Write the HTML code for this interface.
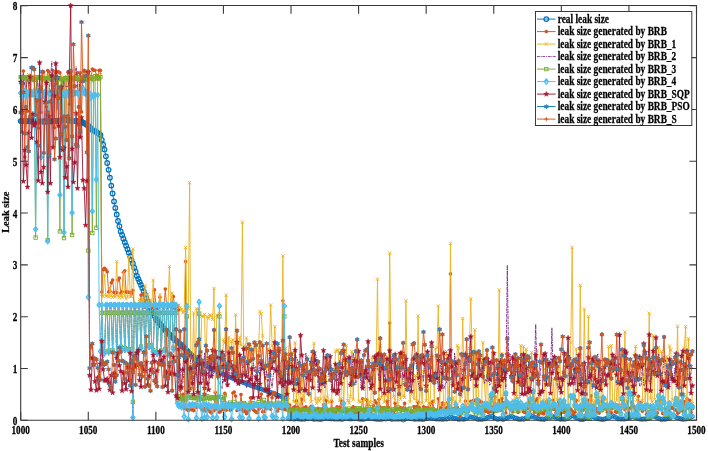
<!DOCTYPE html>
<html><head><meta charset="utf-8"><style>
html,body{margin:0;padding:0;background:#fff;}
svg{display:block;}
text{font-family:"Liberation Serif",serif;font-weight:bold;fill:#000;font-size:11px;stroke:#000;stroke-width:0.25px;}
</style></head><body>
<svg width="708" height="451" viewBox="0 0 708 451">
<defs><marker id="mo" markerUnits="userSpaceOnUse" markerWidth="10" markerHeight="10" refX="5" refY="5" overflow="visible"><circle cx="5" cy="5" r="2.3" fill="none" stroke="#0072BD" stroke-width="1.25"/></marker><marker id="mo2" markerUnits="userSpaceOnUse" markerWidth="10" markerHeight="10" refX="5" refY="5" overflow="visible"><circle cx="5" cy="5" r="2.0" fill="none" stroke="#0072BD" stroke-width="0.8"/></marker><marker id="md" markerUnits="userSpaceOnUse" markerWidth="10" markerHeight="10" refX="5" refY="5" overflow="visible"><circle cx="5" cy="5" r="1.8" fill="#D95319"/></marker><marker id="mx" markerUnits="userSpaceOnUse" markerWidth="10" markerHeight="10" refX="5" refY="5" overflow="visible"><path d="M3.4 3.3L6.6 6.7M6.6 3.3L3.4 6.7" stroke="#EDB120" stroke-width="0.9"/></marker><marker id="ms" markerUnits="userSpaceOnUse" markerWidth="10" markerHeight="10" refX="5" refY="5" overflow="visible"><rect x="3.3" y="3.3" width="3.4" height="3.4" fill="none" stroke="#77AC30" stroke-width="0.9"/></marker><marker id="mdi" markerUnits="userSpaceOnUse" markerWidth="10" markerHeight="10" refX="5" refY="5" overflow="visible"><path d="M5 2.4L7.1 5L5 7.6L2.9 5Z" fill="none" stroke="#4DBEEE" stroke-width="1.2"/></marker><marker id="mdf" markerUnits="userSpaceOnUse" markerWidth="10" markerHeight="10" refX="5" refY="5" overflow="visible"><path d="M5 2.4L7.1 5L5 7.6L2.9 5Z" fill="#4DBEEE" fill-opacity="0.55" stroke="#4DBEEE" stroke-width="1.2"/></marker><marker id="mp" markerUnits="userSpaceOnUse" markerWidth="10" markerHeight="10" refX="5" refY="5" overflow="visible"><path d="M5.00 2.25L5.68 4.07L7.62 4.15L6.09 5.36L6.62 7.22L5.00 6.15L3.38 7.22L3.91 5.36L2.38 4.15L4.32 4.07Z" fill="#A2142F" stroke="#A2142F" stroke-width="0.4"/></marker><marker id="mh" markerUnits="userSpaceOnUse" markerWidth="10" markerHeight="10" refX="5" refY="5" overflow="visible"><path d="M5 2.8L5.7 3.8L7 3.8L6.3 5L7 6.2L5.7 6.2L5 7.2L4.3 6.2L3 6.2L3.7 5L3 3.8L4.3 3.8Z" fill="#2F7FC1" stroke="#0072BD" stroke-width="0.5"/></marker><marker id="mpl" markerUnits="userSpaceOnUse" markerWidth="10" markerHeight="10" refX="5" refY="5" overflow="visible"><path d="M5 3V7M3.1 5H6.9" stroke="#D95319" stroke-width="0.9"/></marker>
<clipPath id="cp"><rect x="18" y="3" width="681" height="420"/></clipPath>
</defs>
<rect width="708" height="451" fill="#fff"/>
<g>
<polyline points="20.7,121.1 22.1,121.1 23.4,121.1 24.8,121.1 26.1,121.2 27.5,121.2 28.8,121.2 30.2,121.2 31.5,121.3 32.9,121.3 34.2,121.3 35.6,121.3 36.9,121.4 38.3,121.4 39.6,121.4 41.0,121.4 42.3,121.5 43.7,121.5 45.0,121.5 46.4,121.5 47.7,121.6 49.1,121.5 50.4,121.3 51.8,121.2 53.1,121.1 54.5,121.0 55.8,120.9 57.2,120.7 58.5,120.6 59.9,120.5 61.2,120.4 62.6,120.3 64.0,120.1 65.3,120.0 66.7,120.1 68.0,120.3 69.4,120.4 70.7,120.5 72.1,120.7 73.4,120.8 74.8,120.9 76.1,121.1 77.5,121.2 78.8,121.3 80.2,121.4 81.5,121.6 82.9,122.4 84.2,123.2 85.6,124.1 86.9,124.9 88.3,125.7 89.6,127.1 91.0,128.5 92.3,129.9 93.7,130.6 95.0,131.2 96.4,131.9 97.7,133.0 99.1,134.0 100.4,135.0 101.8,139.9 103.1,144.7 104.5,149.6 105.9,156.3 107.2,163.0 108.6,169.8 109.9,177.7 111.3,185.6 112.6,193.5 114.0,201.4 115.3,207.9 116.7,214.5 118.0,221.0 119.4,226.2 120.7,231.4 122.1,235.0 123.4,238.7 124.8,242.2 126.1,245.7 127.5,249.2 128.8,252.7 130.2,256.3 131.5,259.9 132.9,263.5 134.2,267.7 135.6,271.8 136.9,276.0 138.3,278.9 139.6,281.9 141.0,284.9 142.3,287.9 143.7,291.3 145.0,294.6 146.4,298.0 147.8,301.4 149.1,304.3 150.5,307.2 151.8,310.2 153.2,313.1 154.5,316.0 155.9,319.0 157.2,320.6 158.6,322.3 159.9,323.9 161.3,325.5 162.6,327.2 164.0,328.8 165.3,330.2 166.7,331.6 168.0,333.0 169.4,334.3 170.7,335.7 172.1,337.1 173.4,338.3 174.8,339.4 176.1,340.6 177.5,341.8 178.8,342.9 180.2,344.1 181.5,345.3 182.9,346.4 184.2,347.8 185.6,349.2 186.9,350.6 188.3,352.0 189.6,353.4 191.0,354.8 192.4,356.2 193.7,357.6 195.1,359.0 196.4,360.4 197.8,361.2 199.1,362.0 200.5,362.7 201.8,363.5" fill="none" stroke="#0072BD" stroke-width="0.9" stroke-linejoin="round" marker-start="url(#mo)" marker-mid="url(#mo)" marker-end="url(#mo)" />
<polyline points="201.8,363.5 203.2,364.3 204.5,365.1 205.9,365.9 207.2,366.6 208.6,367.4 209.9,368.2 211.3,368.8 212.6,369.4 214.0,370.1 215.3,370.7 216.7,371.3 218.0,371.9 219.4,372.5 220.7,373.2 222.1,373.8 223.4,374.4 224.8,375.0 226.1,375.5 227.5,376.1 228.8,376.7 230.2,377.3 231.5,377.8 232.9,378.4 234.3,379.0 235.6,379.5 237.0,380.1 238.3,380.6 239.7,381.1 241.0,381.7 242.4,382.2 243.7,382.7 245.1,383.2 246.4,383.7 247.8,384.3 249.1,384.8 250.5,385.3 251.8,385.8 253.2,386.2 254.5,386.7 255.9,387.2 257.2,387.6 258.6,388.1 259.9,388.6 261.3,389.0 262.6,389.5 264.0,390.0 265.3,390.5 266.7,391.0 268.0,391.5 269.4,392.0 270.7,392.5 272.1,393.1 273.4,393.6 274.8,394.1 276.2,394.6 277.5,395.1 278.9,395.6 280.2,396.2 281.6,396.7 282.9,397.2 284.3,397.7 285.6,398.2 287.0,398.8 288.3,418.4 289.7,419.0 291.0,418.4 292.4,418.6 293.7,419.1 295.1,419.0 296.4,418.6 297.8,418.9 299.1,419.0 300.5,419.0 301.8,419.4 303.2,418.7 304.5,419.3 305.9,418.7 307.2,418.5 308.6,418.7 309.9,418.4 311.3,418.1 312.6,418.9 314.0,419.3 315.3,419.1 316.7,418.9 318.1,419.2 319.4,419.2 320.8,419.6 322.1,418.9 323.5,418.8 324.8,418.4 326.2,418.1 327.5,418.2 328.9,418.7 330.2,418.8 331.6,418.9 332.9,418.7 334.3,419.2 335.6,418.7 337.0,419.1 338.3,419.1 339.7,419.0 341.0,419.1 342.4,419.5 343.7,418.2 345.1,418.3 346.4,418.1 347.8,418.6 349.1,418.8 350.5,418.9 351.8,418.9 353.2,418.5 354.5,418.7 355.9,418.6 357.2,418.5 358.6,419.1 360.0,419.1 361.3,419.3 362.7,419.2 364.0,419.3 365.4,418.6 366.7,418.5 368.1,418.5 369.4,418.4 370.8,418.3 372.1,418.2 373.5,418.8 374.8,418.9 376.2,419.3 377.5,419.2 378.9,419.3 380.2,419.3 381.6,419.4 382.9,419.0 384.3,418.6 385.6,419.1 387.0,418.2 388.3,418.5 389.7,418.3 391.0,419.1 392.4,419.4 393.7,418.6 395.1,419.3 396.4,418.8 397.8,419.2 399.1,419.1 400.5,418.8 401.9,419.2 403.2,420.1 404.6,419.5 405.9,418.5 407.3,418.0 408.6,418.4 410.0,418.4 411.3,418.8 412.7,418.4 414.0,419.3 415.4,419.3 416.7,419.0 418.1,419.1 419.4,419.3 420.8,418.9 422.1,419.5 423.5,419.4 424.8,419.0 426.2,418.6 427.5,418.5 428.9,417.4 430.2,417.9 431.6,417.8 432.9,418.4 434.3,418.4 435.6,418.9 437.0,419.1 438.3,418.6 439.7,419.3 441.0,418.7 442.4,419.4 443.8,419.1 445.1,418.4 446.5,419.2 447.8,418.5 449.2,417.6 450.5,417.0 451.9,417.3 453.2,418.0 454.6,418.7 455.9,418.4 457.3,418.8 458.6,419.5 460.0,419.2 461.3,418.6 462.7,419.1 464.0,419.3 465.4,418.7 466.7,418.3 468.1,417.6 469.4,416.8 470.8,416.8 472.1,417.3 473.5,417.3 474.8,417.8 476.2,418.1 477.5,419.3 478.9,419.4 480.2,418.9 481.6,419.5 482.9,419.0 484.3,418.8 485.7,418.7 487.0,417.5 488.4,417.3 489.7,416.8 491.1,416.0 492.4,416.5 493.8,417.7 495.1,418.1 496.5,418.8 497.8,419.4 499.2,418.8 500.5,418.8 501.9,418.8 503.2,419.6 504.6,418.6 505.9,418.1 507.3,418.0 508.6,417.0 510.0,416.9 511.3,416.2 512.7,416.8 514.0,417.5 515.4,418.2 516.7,418.1 518.1,419.1 519.4,419.2 520.8,419.4 522.1,418.5 523.5,419.3 524.8,418.6 526.2,417.8 527.5,418.2 528.9,417.5 530.3,416.7 531.6,416.3 533.0,416.2 534.3,417.4 535.7,417.5 537.0,418.2 538.4,418.8 539.7,418.8 541.1,419.3 542.4,418.9 543.8,419.5 545.1,419.0 546.5,418.0 547.8,418.5 549.2,417.1 550.5,416.7 551.9,416.0 553.2,416.8 554.6,416.8 555.9,418.3 557.3,418.1 558.6,418.6 560.0,419.2 561.3,419.2 562.7,419.0 564.0,419.2 565.4,419.2 566.7,418.3 568.1,418.1 569.4,417.4 570.8,416.5 572.2,415.6 573.5,416.0 574.9,417.1 576.2,417.8 577.6,418.1 578.9,418.7 580.3,419.6 581.6,419.4 583.0,419.6 584.3,418.8 585.7,418.4 587.0,418.2 588.4,418.2 589.7,417.0 591.1,416.9 592.4,415.8 593.8,416.9 595.1,417.7 596.5,418.3 597.8,418.4 599.2,419.0 600.5,418.9 601.9,419.6 603.2,419.1 604.6,419.3 605.9,418.4 607.3,418.0 608.6,417.9 610.0,417.2 611.3,416.5 612.7,415.7 614.1,416.6 615.4,416.9 616.8,418.0 618.1,419.0 619.5,418.7 620.8,419.1 622.2,418.9 623.5,419.0 624.9,419.0 626.2,418.7 627.6,418.3 628.9,418.0 630.3,417.6 631.6,416.8 633.0,415.9 634.3,417.3 635.7,417.4 637.0,418.1 638.4,418.4 639.7,419.0 641.1,419.0 642.4,419.3 643.8,418.8 645.1,419.2 646.5,418.8 647.8,418.3 649.2,418.4 650.5,417.6 651.9,416.1 653.2,415.7 654.6,416.5 656.0,416.9 657.3,417.9 658.7,418.4 660.0,418.9 661.4,419.6 662.7,418.9 664.1,419.3 665.4,419.1 666.8,418.9 668.1,418.6 669.5,418.5 670.8,417.2 672.2,415.9 673.5,415.5 674.9,416.6 676.2,417.5 677.6,417.8 678.9,418.2 680.3,418.8 681.6,418.8 683.0,419.5 684.3,418.9 685.7,419.0 687.0,418.9 688.4,418.4 689.7,417.7 691.1,417.0 692.4,416.5" fill="none" stroke="#0072BD" stroke-width="0.9" stroke-linejoin="round" marker-start="url(#mo2)" marker-mid="url(#mo2)" marker-end="url(#mo2)" />
<polyline points="20.7,76.9 22.1,131.9 23.4,71.1 24.8,156.9 26.1,78.4 27.5,111.2 28.8,78.2 30.2,78.4 31.5,78.3 32.9,77.3 34.2,79.3 35.6,115.2 36.9,78.7 38.3,128.3 39.6,77.2 41.0,112.4 42.3,77.9 43.7,72.0 45.0,78.4 46.4,106.7 47.7,70.5 49.1,72.1 50.4,78.3 51.8,77.8 53.1,70.7 54.5,127.7 55.8,72.7 57.2,71.8 58.5,71.8 59.9,72.9 61.2,78.6 62.6,96.3 64.0,78.4 65.3,162.8 66.7,77.8 68.0,72.2 69.4,104.3 70.7,92.3 72.1,78.6 73.4,77.4 74.8,78.1 76.1,79.5 77.5,72.9 78.8,121.9 80.2,72.7 81.5,111.9 82.9,77.2 84.2,78.2 85.6,78.3 86.9,72.1 88.3,71.0 89.6,78.6 91.0,79.0 92.3,69.0 93.7,70.3 95.0,70.2 96.4,75.4 97.7,78.9 99.1,70.3 100.4,70.4 101.8,292.1 103.1,269.8 104.5,268.2 105.9,269.8 107.2,271.8 108.6,292.0 109.9,291.2 111.3,282.7 112.6,280.1 114.0,292.3 115.3,293.1 116.7,292.8 118.0,280.1 119.4,278.0 120.7,293.2 122.1,291.9 123.4,272.3 124.8,270.8 126.1,292.1 127.5,292.0 128.8,292.2 130.2,292.3 131.5,293.6 132.9,290.4 134.2,307.1 135.6,307.0 136.9,304.8 138.3,304.9 139.6,305.7 141.0,295.1 142.3,304.8 143.7,293.7 145.0,307.1 146.4,305.6 147.8,305.2 149.1,305.2 150.5,305.8 151.8,307.4 153.2,305.0 154.5,289.9 155.9,305.2 157.2,308.4 158.6,305.2 159.9,297.2 161.3,305.0 162.6,306.5 164.0,305.3 165.3,289.0 166.7,306.3 168.0,305.0 169.4,305.3 170.7,306.9 172.1,303.0 173.4,296.5 174.8,308.4 176.1,306.0 177.5,305.9 178.8,309.8 180.2,390.1 181.5,406.5 182.9,394.3 184.2,408.4 185.6,261.5 186.9,409.6 188.3,410.5 189.6,409.1 191.0,409.8 192.4,409.7 193.7,410.6 195.1,404.2 196.4,407.3 197.8,396.3 199.1,392.8 200.5,407.8 201.8,409.5 203.2,410.8 204.5,408.5 205.9,411.0 207.2,406.1 208.6,409.6 209.9,411.8 211.3,412.9 212.6,406.1 214.0,410.7 215.3,392.4 216.7,409.0 218.0,396.4 219.4,412.2 220.7,411.1 222.1,409.0 223.4,409.6 224.8,393.3 226.1,410.3 227.5,406.5 228.8,407.4 230.2,410.3 231.5,409.0 232.9,393.0 234.3,392.1 235.6,396.0 237.0,410.5 238.3,408.5 239.7,409.3 241.0,394.5 242.4,409.6 243.7,411.4 245.1,410.8 246.4,413.8 247.8,411.8 249.1,410.4 250.5,397.7 251.8,407.8 253.2,409.6 254.5,410.8 255.9,411.9 257.2,412.8 258.6,409.4 259.9,408.3 261.3,394.1 262.6,411.7 264.0,411.7 265.3,406.4 266.7,408.7 268.0,395.9 269.4,407.6 270.7,409.2 272.1,397.8 273.4,392.4 274.8,392.9 276.2,406.9 277.5,411.1 278.9,408.0 280.2,408.1 281.6,408.8 282.9,300.8 284.3,409.5 285.6,409.8 287.0,409.2 288.3,408.6 289.7,405.1 291.0,409.4 292.4,408.8 293.7,407.4 295.1,406.7 296.4,400.9 297.8,407.4 299.1,413.4 300.5,410.2 301.8,399.1 303.2,408.3 304.5,408.0 305.9,406.8 307.2,408.7 308.6,414.0 309.9,407.9 311.3,406.3 312.6,411.4 314.0,408.9 315.3,409.1 316.7,414.5 318.1,408.2 319.4,414.3 320.8,409.2 322.1,409.4 323.5,405.0 324.8,413.6 326.2,400.5 327.5,412.5 328.9,413.8 330.2,413.5 331.6,401.3 332.9,412.7 334.3,413.7 335.6,412.5 337.0,406.8 338.3,410.0 339.7,407.4 341.0,400.5 342.4,412.1 343.7,411.6 345.1,412.0 346.4,412.6 347.8,412.2 349.1,412.1 350.5,414.0 351.8,408.5 353.2,406.9 354.5,413.9 355.9,408.6 357.2,412.7 358.6,412.3 360.0,409.1 361.3,409.0 362.7,398.8 364.0,413.6 365.4,409.5 366.7,399.9 368.1,405.2 369.4,411.4 370.8,412.5 372.1,409.1 373.5,405.9 374.8,400.8 376.2,402.8 377.5,408.6 378.9,399.3 380.2,407.0 381.6,413.5 382.9,407.8 384.3,407.5 385.6,412.3 387.0,401.1 388.3,407.4 389.7,323.1 391.0,414.2 392.4,411.7 393.7,412.9 395.1,403.4 396.4,408.6 397.8,408.4 399.1,409.4 400.5,407.6 401.9,408.5 403.2,408.0 404.6,403.4 405.9,409.4 407.3,414.8 408.6,414.1 410.0,413.1 411.3,413.8 412.7,412.5 414.0,406.5 415.4,407.9 416.7,406.6 418.1,402.2 419.4,407.7 420.8,412.5 422.1,411.0 423.5,406.7 424.8,407.6 426.2,413.6 427.5,407.6 428.9,413.9 430.2,403.5 431.6,412.6 432.9,401.3 434.3,412.0 435.6,410.0 437.0,413.5 438.3,398.8 439.7,411.3 441.0,407.6 442.4,403.1 443.8,405.0 445.1,413.3 446.5,407.9 447.8,402.2 449.2,409.7 450.5,273.9 451.9,413.2 453.2,408.7 454.6,408.6 455.9,407.6 457.3,407.2 458.6,409.7 460.0,415.4 461.3,411.9 462.7,408.5 464.0,411.1 465.4,401.0 466.7,408.3 468.1,411.4 469.4,408.2 470.8,401.4 472.1,408.8 473.5,400.3 474.8,400.6 476.2,399.8 477.5,411.9 478.9,400.0 480.2,401.7 481.6,402.1 482.9,409.7 484.3,408.7 485.7,411.5 487.0,409.6 488.4,412.6 489.7,411.6 491.1,396.8 492.4,411.9 493.8,406.1 495.1,396.8 496.5,411.2 497.8,404.3 499.2,400.3 500.5,410.4 501.9,398.6 503.2,402.7 504.6,406.2 505.9,413.0 507.3,401.9 508.6,406.5 510.0,408.9 511.3,410.1 512.7,411.5 514.0,407.1 515.4,407.2 516.7,404.2 518.1,412.4 519.4,406.7 520.8,406.7 522.1,407.4 523.5,411.7 524.8,412.5 526.2,408.4 527.5,408.8 528.9,402.0 530.3,414.1 531.6,407.5 533.0,409.3 534.3,412.8 535.7,401.0 537.0,398.9 538.4,414.7 539.7,408.6 541.1,413.1 542.4,412.7 543.8,414.0 545.1,411.0 546.5,401.3 547.8,407.4 549.2,410.5 550.5,413.1 551.9,408.8 553.2,400.3 554.6,409.5 555.9,413.1 557.3,413.7 558.6,402.0 560.0,413.9 561.3,409.9 562.7,409.4 564.0,412.5 565.4,409.1 566.7,411.6 568.1,409.0 569.4,413.2 570.8,409.1 572.2,411.1 573.5,414.5 574.9,412.2 576.2,400.3 577.6,408.6 578.9,406.9 580.3,407.9 581.6,410.9 583.0,410.1 584.3,403.7 585.7,414.8 587.0,412.4 588.4,400.2 589.7,405.8 591.1,395.8 592.4,410.3 593.8,405.2 595.1,411.6 596.5,408.3 597.8,411.8 599.2,413.1 600.5,406.0 601.9,401.5 603.2,397.2 604.6,408.2 605.9,408.6 607.3,412.3 608.6,412.6 610.0,407.4 611.3,412.8 612.7,408.1 614.1,405.4 615.4,411.8 616.8,412.4 618.1,405.3 619.5,409.3 620.8,408.9 622.2,404.3 623.5,400.4 624.9,409.8 626.2,407.6 627.6,401.8 628.9,414.0 630.3,408.0 631.6,402.7 633.0,405.5 634.3,407.5 635.7,411.7 637.0,412.5 638.4,396.2 639.7,408.6 641.1,402.2 642.4,411.2 643.8,406.3 645.1,409.0 646.5,414.4 647.8,412.7 649.2,411.4 650.5,406.5 651.9,408.3 653.2,410.1 654.6,410.2 656.0,413.1 657.3,413.1 658.7,408.5 660.0,399.7 661.4,407.5 662.7,413.4 664.1,413.4 665.4,407.9 666.8,407.7 668.1,413.6 669.5,409.9 670.8,408.3 672.2,407.4 673.5,408.8 674.9,409.7 676.2,410.2 677.6,413.3 678.9,412.4 680.3,410.0 681.6,401.5 683.0,411.5 684.3,401.5 685.7,414.7 687.0,398.7 688.4,408.2 689.7,400.2 691.1,412.5 692.4,408.8" fill="none" stroke="#D95319" stroke-width="0.9" stroke-linejoin="round" marker-start="url(#md)" marker-mid="url(#md)" marker-end="url(#md)" />
<polyline points="20.7,77.2 22.1,77.2 23.4,79.0 24.8,78.1 26.1,78.1 27.5,78.0 28.8,74.7 30.2,78.5 31.5,78.5 32.9,78.8 34.2,76.4 35.6,78.7 36.9,78.2 38.3,76.7 39.6,76.9 41.0,79.6 42.3,75.2 43.7,77.6 45.0,76.6 46.4,77.5 47.7,75.4 49.1,78.6 50.4,79.0 51.8,77.4 53.1,75.9 54.5,78.1 55.8,76.6 57.2,108.7 58.5,80.2 59.9,113.9 61.2,76.3 62.6,78.8 64.0,78.1 65.3,78.8 66.7,76.7 68.0,156.5 69.4,77.0 70.7,75.9 72.1,80.7 73.4,77.3 74.8,78.1 76.1,78.8 77.5,77.3 78.8,78.2 80.2,80.4 81.5,79.0 82.9,78.1 84.2,79.2 85.6,80.1 86.9,74.2 88.3,75.8 89.6,76.0 91.0,77.9 92.3,81.3 93.7,78.5 95.0,77.2 96.4,78.7 97.7,79.0 99.1,77.5 100.4,74.7 101.8,294.3 103.1,296.5 104.5,274.9 105.9,296.0 107.2,295.6 108.6,296.8 109.9,287.9 111.3,295.6 112.6,297.3 114.0,295.9 115.3,296.7 116.7,261.5 118.0,295.9 119.4,297.6 120.7,294.5 122.1,297.3 123.4,272.3 124.8,295.8 126.1,298.7 127.5,296.9 128.8,256.8 130.2,296.5 131.5,296.4 132.9,249.0 134.2,306.5 135.6,306.6 136.9,304.1 138.3,305.5 139.6,299.3 141.0,306.5 142.3,299.2 143.7,304.8 145.0,285.8 146.4,306.3 147.8,294.4 149.1,306.9 150.5,300.0 151.8,305.5 153.2,280.1 154.5,307.5 155.9,306.4 157.2,306.3 158.6,306.0 159.9,294.6 161.3,306.2 162.6,308.2 164.0,307.0 165.3,306.8 166.7,307.5 168.0,304.9 169.4,266.6 170.7,305.8 172.1,293.1 173.4,306.1 174.8,306.3 176.1,307.2 177.5,306.1 178.8,305.3 180.2,307.4 181.5,309.7 182.9,312.5 184.2,311.5 185.6,247.5 186.9,311.5 188.3,308.5 189.6,182.7 191.0,389.7 192.4,364.5 193.7,312.9 195.1,388.9 196.4,308.8 197.8,309.5 199.1,310.2 200.5,356.2 201.8,316.0 203.2,316.3 204.5,314.4 205.9,371.4 207.2,316.6 208.6,318.3 209.9,314.9 211.3,315.6 212.6,319.5 214.0,288.4 215.3,392.3 216.7,315.1 218.0,315.6 219.4,313.6 220.7,369.4 222.1,370.3 223.4,339.6 224.8,343.2 226.1,295.1 227.5,374.3 228.8,337.3 230.2,369.1 231.5,341.4 232.9,339.7 234.3,371.8 235.6,314.8 237.0,379.5 238.3,343.5 239.7,337.3 241.0,345.2 242.4,222.1 243.7,346.2 245.1,350.0 246.4,337.9 247.8,344.6 249.1,371.7 250.5,346.1 251.8,373.3 253.2,366.5 254.5,341.6 255.9,344.6 257.2,363.2 258.6,350.3 259.9,311.7 261.3,313.8 262.6,335.8 264.0,372.9 265.3,390.3 266.7,368.3 268.0,349.2 269.4,352.9 270.7,305.0 272.1,345.9 273.4,352.3 274.8,326.7 276.2,358.7 277.5,375.6 278.9,350.2 280.2,383.1 281.6,354.6 282.9,255.8 284.3,371.0 285.6,348.4 287.0,361.4 288.3,404.3 289.7,353.9 291.0,373.8 292.4,352.6 293.7,401.7 295.1,342.7 296.4,403.4 297.8,368.5 299.1,404.6 300.5,404.1 301.8,366.4 303.2,395.4 304.5,401.1 305.9,368.6 307.2,356.8 308.6,379.1 309.9,395.3 311.3,402.0 312.6,358.4 314.0,343.5 315.3,399.0 316.7,403.5 318.1,398.3 319.4,401.2 320.8,399.0 322.1,369.4 323.5,404.6 324.8,397.8 326.2,375.4 327.5,397.0 328.9,402.1 330.2,402.1 331.6,400.1 332.9,374.4 334.3,373.3 335.6,351.2 337.0,350.3 338.3,350.1 339.7,400.2 341.0,398.8 342.4,360.3 343.7,404.7 345.1,365.6 346.4,345.5 347.8,400.6 349.1,403.1 350.5,396.2 351.8,351.6 353.2,399.6 354.5,360.2 355.9,364.7 357.2,351.5 358.6,401.1 360.0,401.9 361.3,401.9 362.7,402.8 364.0,399.6 365.4,399.3 366.7,365.6 368.1,407.1 369.4,401.5 370.8,402.5 372.1,357.4 373.5,402.6 374.8,367.6 376.2,359.9 377.5,279.1 378.9,404.5 380.2,345.8 381.6,397.7 382.9,354.8 384.3,402.1 385.6,383.3 387.0,395.5 388.3,399.3 389.7,253.2 391.0,358.1 392.4,374.4 393.7,396.3 395.1,400.4 396.4,365.2 397.8,404.0 399.1,352.9 400.5,399.3 401.9,376.2 403.2,395.8 404.6,397.3 405.9,300.8 407.3,379.7 408.6,368.7 410.0,401.8 411.3,394.1 412.7,357.4 414.0,398.8 415.4,375.5 416.7,400.6 418.1,315.9 419.4,403.3 420.8,380.0 422.1,403.1 423.5,371.5 424.8,361.1 426.2,400.8 427.5,375.0 428.9,405.7 430.2,403.8 431.6,357.6 432.9,356.1 434.3,402.2 435.6,349.0 437.0,347.7 438.3,306.0 439.7,405.0 441.0,368.3 442.4,363.3 443.8,411.0 445.1,403.2 446.5,351.6 447.8,402.5 449.2,381.0 450.5,243.3 451.9,401.2 453.2,397.7 454.6,401.6 455.9,406.9 457.3,345.6 458.6,348.0 460.0,401.6 461.3,396.4 462.7,318.5 464.0,377.0 465.4,407.5 466.7,375.8 468.1,403.9 469.4,348.5 470.8,298.8 472.1,351.9 473.5,403.4 474.8,329.9 476.2,410.7 477.5,354.3 478.9,408.2 480.2,408.4 481.6,407.9 482.9,342.7 484.3,381.0 485.7,404.9 487.0,354.9 488.4,408.9 489.7,400.0 491.1,407.0 492.4,401.5 493.8,358.8 495.1,401.0 496.5,396.0 497.8,405.3 499.2,290.0 500.5,405.3 501.9,353.5 503.2,395.9 504.6,368.4 505.9,408.1 507.3,403.0 508.6,403.1 510.0,403.5 511.3,402.6 512.7,399.9 514.0,406.7 515.4,358.3 516.7,396.6 518.1,356.9 519.4,398.6 520.8,345.7 522.1,364.5 523.5,346.4 524.8,382.8 526.2,349.3 527.5,403.8 528.9,355.7 530.3,405.7 531.6,352.4 533.0,369.2 534.3,408.7 535.7,378.2 537.0,350.5 538.4,403.1 539.7,396.7 541.1,404.7 542.4,406.9 543.8,400.2 545.1,369.0 546.5,401.6 547.8,407.5 549.2,406.7 550.5,407.1 551.9,407.0 553.2,379.3 554.6,405.3 555.9,359.7 557.3,399.4 558.6,370.0 560.0,358.4 561.3,404.6 562.7,403.2 564.0,404.6 565.4,362.3 566.7,356.4 568.1,405.8 569.4,374.2 570.8,342.5 572.2,247.5 573.5,405.3 574.9,399.6 576.2,348.9 577.6,361.9 578.9,401.0 580.3,285.3 581.6,404.2 583.0,399.6 584.3,309.1 585.7,401.5 587.0,402.6 588.4,316.4 589.7,410.0 591.1,365.6 592.4,400.8 593.8,402.9 595.1,401.4 596.5,358.2 597.8,363.8 599.2,397.2 600.5,408.5 601.9,376.8 603.2,397.9 604.6,399.2 605.9,399.0 607.3,405.0 608.6,346.5 610.0,404.9 611.3,345.8 612.7,404.1 614.1,406.2 615.4,373.1 616.8,400.3 618.1,380.9 619.5,410.8 620.8,358.0 622.2,353.3 623.5,399.3 624.9,331.9 626.2,406.1 627.6,398.2 628.9,363.5 630.3,399.4 631.6,370.5 633.0,401.8 634.3,355.9 635.7,346.3 637.0,400.1 638.4,406.8 639.7,407.7 641.1,406.5 642.4,400.5 643.8,345.6 645.1,405.1 646.5,377.2 647.8,407.7 649.2,313.3 650.5,397.9 651.9,402.2 653.2,335.5 654.6,399.5 656.0,400.9 657.3,402.5 658.7,347.3 660.0,404.4 661.4,351.4 662.7,378.7 664.1,403.6 665.4,407.4 666.8,356.6 668.1,404.7 669.5,346.0 670.8,350.2 672.2,399.4 673.5,400.3 674.9,405.8 676.2,383.1 677.6,326.2 678.9,407.2 680.3,360.2 681.6,404.7 683.0,407.7 684.3,348.0 685.7,326.7 687.0,403.1 688.4,338.7 689.7,367.5 691.1,380.2 692.4,403.8" fill="none" stroke="#EDB120" stroke-width="0.9" stroke-linejoin="round" marker-start="url(#mx)" marker-mid="url(#mx)" marker-end="url(#mx)" />
<polyline points="20.7,86.2 22.1,78.1 23.4,73.5 24.8,86.2 26.1,87.3 27.5,79.2 28.8,85.5 30.2,80.8 31.5,75.9 32.9,82.3 34.2,79.1 35.6,100.3 36.9,79.3 38.3,86.8 39.6,91.6 41.0,86.7 42.3,93.2 43.7,93.1 45.0,98.5 46.4,89.8 47.7,94.3 49.1,90.8 50.4,80.8 51.8,61.5 53.1,93.8 54.5,83.0 55.8,79.6 57.2,85.7 58.5,85.7 59.9,86.5 61.2,92.2 62.6,79.4 64.0,83.0 65.3,86.5 66.7,86.3 68.0,86.9 69.4,76.7 70.7,87.8 72.1,96.6 73.4,85.2 74.8,80.4 76.1,66.7 77.5,88.5 78.8,96.2 80.2,73.1 81.5,92.3 82.9,85.2 84.2,87.1 85.6,90.3 86.9,88.9 88.3,93.2 89.6,368.1 91.0,346.2 92.3,343.7 93.7,364.4 95.0,358.6 96.4,359.5 97.7,367.9 99.1,378.4 100.4,354.4 101.8,308.1 103.1,357.5 104.5,356.3 105.9,308.1 107.2,308.1 108.6,355.3 109.9,308.1 111.3,308.1 112.6,355.0 114.0,308.1 115.3,308.1 116.7,357.9 118.0,308.1 119.4,308.1 120.7,351.3 122.1,308.1 123.4,308.1 124.8,352.8 126.1,308.1 127.5,308.1 128.8,353.8 130.2,308.1 131.5,308.1 132.9,420.5 134.2,308.1 135.6,308.1 136.9,357.5 138.3,308.1 139.6,308.1 141.0,351.2 142.3,308.1 143.7,308.1 145.0,356.5 146.4,308.1 147.8,308.1 149.1,350.1 150.5,308.1 151.8,350.1 153.2,354.9 154.5,308.1 155.9,308.1 157.2,356.7 158.6,308.1 159.9,308.1 161.3,355.3 162.6,308.1 164.0,308.1 165.3,353.6 166.7,308.1 168.0,308.1 169.4,358.3 170.7,308.1 172.1,308.1 173.4,352.3 174.8,308.1 176.1,308.1 177.5,406.3 178.8,357.3 180.2,365.2 181.5,384.0 182.9,382.4 184.2,370.3 185.6,360.6 186.9,364.1 188.3,365.4 189.6,373.4 191.0,353.5 192.4,354.2 193.7,381.0 195.1,376.3 196.4,369.0 197.8,387.8 199.1,366.7 200.5,373.7 201.8,367.5 203.2,381.8 204.5,352.9 205.9,385.0 207.2,356.8 208.6,377.9 209.9,355.9 211.3,355.0 212.6,375.5 214.0,372.6 215.3,359.1 216.7,374.3 218.0,380.2 219.4,382.2 220.7,385.6 222.1,388.5 223.4,367.2 224.8,353.1 226.1,364.9 227.5,387.1 228.8,360.5 230.2,378.5 231.5,374.3 232.9,364.2 234.3,379.5 235.6,374.0 237.0,362.1 238.3,375.1 239.7,386.0 241.0,357.2 242.4,368.2 243.7,366.4 245.1,367.1 246.4,387.9 247.8,379.9 249.1,381.4 250.5,385.1 251.8,382.5 253.2,362.9 254.5,371.9 255.9,366.2 257.2,379.1 258.6,355.2 259.9,382.4 261.3,362.3 262.6,360.5 264.0,364.8 265.3,380.0 266.7,370.7 268.0,388.4 269.4,353.0 270.7,379.1 272.1,387.5 273.4,374.1 274.8,367.8 276.2,369.8 277.5,365.1 278.9,375.1 280.2,363.8 281.6,361.6 282.9,354.7 284.3,385.9 285.6,358.7 287.0,371.5 288.3,385.2 289.7,357.6 291.0,355.6 292.4,384.4 293.7,382.4 295.1,353.6 296.4,357.0 297.8,360.9 299.1,370.5 300.5,375.5 301.8,367.1 303.2,364.2 304.5,369.5 305.9,353.2 307.2,370.2 308.6,372.7 309.9,382.2 311.3,355.7 312.6,371.3 314.0,367.7 315.3,353.6 316.7,357.7 318.1,388.2 319.4,385.9 320.8,367.8 322.1,379.0 323.5,373.4 324.8,387.9 326.2,360.3 327.5,359.4 328.9,376.4 330.2,364.3 331.6,388.9 332.9,375.8 334.3,379.9 335.6,381.1 337.0,374.7 338.3,387.5 339.7,360.0 341.0,377.9 342.4,372.7 343.7,379.3 345.1,374.8 346.4,358.6 347.8,358.4 349.1,360.0 350.5,355.9 351.8,382.0 353.2,353.0 354.5,359.1 355.9,384.4 357.2,361.2 358.6,371.5 360.0,369.8 361.3,388.5 362.7,365.4 364.0,387.8 365.4,364.6 366.7,370.1 368.1,376.0 369.4,363.5 370.8,362.0 372.1,369.1 373.5,368.6 374.8,363.2 376.2,355.2 377.5,365.6 378.9,380.4 380.2,380.6 381.6,354.8 382.9,360.1 384.3,378.3 385.6,363.7 387.0,360.6 388.3,358.7 389.7,362.4 391.0,379.6 392.4,357.4 393.7,364.2 395.1,357.5 396.4,380.3 397.8,359.0 399.1,363.1 400.5,378.1 401.9,361.4 403.2,384.6 404.6,386.5 405.9,359.8 407.3,388.5 408.6,379.5 410.0,387.4 411.3,358.3 412.7,378.8 414.0,362.7 415.4,361.1 416.7,361.1 418.1,381.6 419.4,388.7 420.8,373.9 422.1,375.4 423.5,381.2 424.8,358.0 426.2,361.0 427.5,363.8 428.9,364.2 430.2,365.8 431.6,381.7 432.9,381.1 434.3,372.9 435.6,373.2 437.0,376.8 438.3,387.6 439.7,374.7 441.0,354.1 442.4,386.4 443.8,388.9 445.1,384.5 446.5,382.3 447.8,364.3 449.2,373.3 450.5,356.6 451.9,380.3 453.2,387.0 454.6,353.0 455.9,368.7 457.3,365.3 458.6,358.7 460.0,363.4 461.3,373.1 462.7,375.1 464.0,375.6 465.4,378.4 466.7,353.1 468.1,356.0 469.4,371.4 470.8,380.7 472.1,371.2 473.5,360.8 474.8,380.0 476.2,380.9 477.5,374.8 478.9,373.5 480.2,357.3 481.6,365.0 482.9,370.3 484.3,383.5 485.7,379.2 487.0,381.8 488.4,357.3 489.7,385.3 491.1,383.6 492.4,372.2 493.8,379.1 495.1,387.9 496.5,374.6 497.8,387.6 499.2,360.4 500.5,358.0 501.9,373.7 503.2,374.5 504.6,359.2 505.9,388.5 507.3,265.1 508.6,359.9 510.0,354.0 511.3,382.9 512.7,383.4 514.0,359.0 515.4,375.8 516.7,369.3 518.1,361.3 519.4,382.3 520.8,353.2 522.1,360.8 523.5,387.0 524.8,353.4 526.2,366.7 527.5,378.6 528.9,361.0 530.3,372.5 531.6,361.7 533.0,381.9 534.3,371.3 535.7,324.2 537.0,377.8 538.4,375.7 539.7,378.4 541.1,364.9 542.4,357.2 543.8,362.8 545.1,356.6 546.5,355.1 547.8,374.1 549.2,372.0 550.5,373.6 551.9,327.8 553.2,373.7 554.6,367.5 555.9,363.8 557.3,385.6 558.6,386.6 560.0,380.9 561.3,375.6 562.7,386.5 564.0,375.0 565.4,367.9 566.7,354.8 568.1,361.4 569.4,355.1 570.8,380.0 572.2,359.8 573.5,358.7 574.9,385.2 576.2,357.4 577.6,359.5 578.9,372.6 580.3,364.8 581.6,387.0 583.0,372.8 584.3,388.2 585.7,370.0 587.0,366.3 588.4,375.5 589.7,383.8 591.1,371.8 592.4,388.8 593.8,376.5 595.1,379.2 596.5,359.1 597.8,354.0 599.2,388.3 600.5,378.8 601.9,366.5 603.2,379.4 604.6,370.1 605.9,357.7 607.3,363.0 608.6,363.4 610.0,373.8 611.3,366.5 612.7,373.0 614.1,370.4 615.4,370.5 616.8,364.5 618.1,367.5 619.5,363.4 620.8,366.7 622.2,386.4 623.5,381.5 624.9,352.7 626.2,378.9 627.6,384.3 628.9,376.5 630.3,374.2 631.6,376.7 633.0,369.2 634.3,380.3 635.7,386.6 637.0,380.8 638.4,377.1 639.7,386.6 641.1,385.6 642.4,365.8 643.8,385.5 645.1,384.8 646.5,377.0 647.8,370.2 649.2,382.2 650.5,384.8 651.9,372.0 653.2,369.2 654.6,374.9 656.0,366.2 657.3,365.3 658.7,354.1 660.0,361.6 661.4,382.4 662.7,373.6 664.1,356.0 665.4,359.5 666.8,373.3 668.1,371.5 669.5,387.1 670.8,369.2 672.2,371.9 673.5,381.7 674.9,368.2 676.2,373.2 677.6,358.9 678.9,388.6 680.3,371.5 681.6,360.2 683.0,375.9 684.3,368.1 685.7,362.5 687.0,367.9 688.4,378.7 689.7,378.7 691.1,372.6 692.4,364.4" fill="none" stroke="#7E2F8E" stroke-width="0.9" stroke-linejoin="round"  stroke-dasharray="2.8 0.8 1 0.8" style="stroke-width:1"/>
<polyline points="20.7,77.1 22.1,77.7 23.4,77.5 24.8,78.2 26.1,77.1 27.5,79.6 28.8,76.9 30.2,78.4 31.5,78.2 32.9,79.2 34.2,79.7 35.6,237.6 36.9,77.3 38.3,77.8 39.6,77.2 41.0,78.3 42.3,77.8 43.7,78.2 45.0,79.2 46.4,78.2 47.7,240.2 49.1,77.3 50.4,78.3 51.8,78.1 53.1,77.5 54.5,77.1 55.8,78.2 57.2,78.2 58.5,77.9 59.9,231.4 61.2,79.0 62.6,79.2 64.0,238.1 65.3,78.2 66.7,78.0 68.0,80.2 69.4,78.5 70.7,78.2 72.1,235.0 73.4,78.5 74.8,78.3 76.1,77.8 77.5,77.1 78.8,79.4 80.2,79.4 81.5,77.5 82.9,77.9 84.2,79.0 85.6,79.5 86.9,78.9 88.3,250.6 89.6,77.5 91.0,77.1 92.3,233.0 93.7,79.1 95.0,76.3 96.4,227.8 97.7,78.2 99.1,78.3 100.4,77.1 101.8,312.8 103.1,352.9 104.5,351.6 105.9,312.8 107.2,312.8 108.6,350.6 109.9,312.8 111.3,312.8 112.6,350.4 114.0,312.8 115.3,312.8 116.7,353.3 118.0,312.8 119.4,312.8 120.7,346.7 122.1,312.8 123.4,312.8 124.8,348.2 126.1,312.8 127.5,312.8 128.8,349.1 130.2,312.8 131.5,312.8 132.9,401.9 134.2,312.8 135.6,312.8 136.9,352.8 138.3,312.8 139.6,312.8 141.0,346.5 142.3,312.8 143.7,312.8 145.0,351.9 146.4,312.8 147.8,312.8 149.1,345.4 150.5,312.8 151.8,345.5 153.2,350.2 154.5,312.8 155.9,312.8 157.2,352.1 158.6,312.8 159.9,312.8 161.3,350.6 162.6,312.8 164.0,312.8 165.3,349.0 166.7,312.8 168.0,312.8 169.4,353.6 170.7,312.8 172.1,312.8 173.4,347.7 174.8,312.8 176.1,312.8 177.5,399.6 178.8,396.4 180.2,397.6 181.5,399.1 182.9,398.4 184.2,400.0 185.6,399.3 186.9,316.4 188.3,397.6 189.6,395.6 191.0,397.4 192.4,397.9 193.7,398.2 195.1,397.2 196.4,397.5 197.8,399.5 199.1,313.8 200.5,398.8 201.8,397.3 203.2,398.5 204.5,401.4 205.9,397.7 207.2,396.3 208.6,397.8 209.9,399.0 211.3,397.7 212.6,397.2 214.0,397.9 215.3,398.5 216.7,400.2 218.0,396.7 219.4,316.4 220.7,397.0 222.1,399.4 223.4,399.8 224.8,395.2 226.1,406.5 227.5,403.9 228.8,405.1 230.2,402.6 231.5,404.6 232.9,404.3 234.3,401.9 235.6,404.9 237.0,404.5 238.3,403.8 239.7,405.8 241.0,403.9 242.4,405.3 243.7,403.1 245.1,404.3 246.4,406.6 247.8,405.4 249.1,405.9 250.5,403.0 251.8,405.6 253.2,403.3 254.5,405.4 255.9,404.4 257.2,404.4 258.6,402.2 259.9,405.6 261.3,404.8 262.6,405.8 264.0,400.0 265.3,404.5 266.7,403.8 268.0,405.1 269.4,403.7 270.7,403.8 272.1,405.1 273.4,403.7 274.8,404.9 276.2,405.8 277.5,402.7 278.9,403.5 280.2,404.5 281.6,406.6 282.9,402.1 284.3,316.4 285.6,405.4 287.0,404.8 288.3,409.7 289.7,411.2 291.0,412.1 292.4,410.0 293.7,409.7 295.1,411.2 296.4,410.3 297.8,409.0 299.1,410.0 300.5,411.0 301.8,409.6 303.2,411.5 304.5,410.2 305.9,410.1 307.2,410.0 308.6,409.4 309.9,411.1 311.3,409.8 312.6,412.5 314.0,410.2 315.3,413.5 316.7,410.9 318.1,409.4 319.4,413.1 320.8,410.7 322.1,409.5 323.5,410.6 324.8,411.2 326.2,409.4 327.5,410.5 328.9,410.3 330.2,411.0 331.6,409.5 332.9,409.6 334.3,410.6 335.6,409.4 337.0,410.3 338.3,409.1 339.7,413.0 341.0,412.1 342.4,410.9 343.7,408.9 345.1,408.8 346.4,410.4 347.8,410.7 349.1,408.6 350.5,410.5 351.8,412.0 353.2,410.9 354.5,409.4 355.9,409.8 357.2,408.1 358.6,410.4 360.0,408.2 361.3,411.3 362.7,409.9 364.0,410.4 365.4,408.9 366.7,412.6 368.1,409.3 369.4,410.4 370.8,409.5 372.1,407.3 373.5,412.1 374.8,408.4 376.2,410.3 377.5,411.3 378.9,409.8 380.2,411.5 381.6,411.2 382.9,408.5 384.3,409.4 385.6,409.9 387.0,408.7 388.3,412.4 389.7,410.3 391.0,411.6 392.4,409.6 393.7,409.6 395.1,411.8 396.4,408.7 397.8,407.4 399.1,411.0 400.5,409.3 401.9,409.7 403.2,411.5 404.6,410.0 405.9,410.5 407.3,411.5 408.6,409.3 410.0,408.6 411.3,412.5 412.7,412.3 414.0,411.0 415.4,414.7 416.7,409.0 418.1,410.2 419.4,410.6 420.8,409.9 422.1,411.6 423.5,411.5 424.8,409.4 426.2,410.3 427.5,411.7 428.9,410.5 430.2,410.8 431.6,410.2 432.9,409.0 434.3,411.3 435.6,411.3 437.0,410.6 438.3,413.2 439.7,412.7 441.0,412.0 442.4,410.8 443.8,411.5 445.1,412.0 446.5,410.9 447.8,412.4 449.2,406.6 450.5,412.5 451.9,412.2 453.2,412.0 454.6,411.1 455.9,406.9 457.3,411.4 458.6,412.6 460.0,410.3 461.3,412.2 462.7,409.2 464.0,413.2 465.4,410.6 466.7,413.2 468.1,411.0 469.4,407.7 470.8,409.1 472.1,406.2 473.5,410.0 474.8,411.6 476.2,413.5 477.5,403.6 478.9,413.1 480.2,408.1 481.6,411.7 482.9,415.8 484.3,406.7 485.7,407.2 487.0,404.5 488.4,407.9 489.7,407.8 491.1,396.3 492.4,394.7 493.8,411.1 495.1,408.2 496.5,410.6 497.8,406.5 499.2,409.9 500.5,408.1 501.9,407.3 503.2,415.0 504.6,405.4 505.9,393.9 507.3,406.3 508.6,406.0 510.0,407.8 511.3,412.3 512.7,406.0 514.0,405.4 515.4,411.0 516.7,402.1 518.1,409.9 519.4,410.5 520.8,403.6 522.1,406.8 523.5,408.3 524.8,408.3 526.2,406.7 527.5,416.7 528.9,413.3 530.3,399.6 531.6,408.4 533.0,391.6 534.3,405.7 535.7,411.9 537.0,410.7 538.4,409.1 539.7,410.7 541.1,408.6 542.4,404.1 543.8,405.8 545.1,408.8 546.5,409.3 547.8,414.5 549.2,402.5 550.5,417.8 551.9,408.9 553.2,405.0 554.6,405.7 555.9,407.9 557.3,414.9 558.6,413.0 560.0,401.4 561.3,411.6 562.7,408.5 564.0,402.1 565.4,407.9 566.7,417.8 568.1,409.2 569.4,414.0 570.8,396.1 572.2,398.0 573.5,396.9 574.9,405.8 576.2,408.2 577.6,408.1 578.9,416.0 580.3,407.2 581.6,416.3 583.0,408.4 584.3,400.5 585.7,406.7 587.0,416.7 588.4,407.3 589.7,418.8 591.1,408.0 592.4,415.8 593.8,406.4 595.1,414.9 596.5,395.9 597.8,402.3 599.2,409.9 600.5,410.3 601.9,410.0 603.2,398.2 604.6,408.3 605.9,408.2 607.3,407.1 608.6,416.0 610.0,407.8 611.3,405.4 612.7,405.6 614.1,406.7 615.4,405.2 616.8,407.3 618.1,409.5 619.5,409.4 620.8,413.7 622.2,398.9 623.5,405.7 624.9,407.7 626.2,415.8 627.6,414.8 628.9,394.0 630.3,393.2 631.6,415.9 633.0,394.7 634.3,416.4 635.7,415.3 637.0,408.0 638.4,415.7 639.7,406.6 641.1,407.5 642.4,408.5 643.8,408.0 645.1,407.7 646.5,405.2 647.8,417.1 649.2,414.7 650.5,406.9 651.9,416.6 653.2,408.2 654.6,414.4 656.0,407.2 657.3,402.2 658.7,395.8 660.0,408.1 661.4,409.1 662.7,399.3 664.1,402.7 665.4,414.5 666.8,414.7 668.1,409.0 669.5,403.7 670.8,414.6 672.2,416.3 673.5,416.2 674.9,404.5 676.2,398.6 677.6,405.1 678.9,408.4 680.3,403.7 681.6,408.3 683.0,394.9 684.3,414.1 685.7,418.1 687.0,405.5 688.4,406.2 689.7,417.1 691.1,407.1 692.4,406.9" fill="none" stroke="#77AC30" stroke-width="0.9" stroke-linejoin="round" marker-start="url(#ms)" marker-mid="url(#ms)" marker-end="url(#ms)" />
<polyline points="20.7,93.0 22.1,96.5 23.4,93.7 24.8,90.8 26.1,95.9 27.5,92.7 28.8,94.5 30.2,91.1 31.5,94.3 32.9,94.5 34.2,90.9 35.6,229.3 36.9,94.1 38.3,96.7 39.6,96.2 41.0,157.3 42.3,92.8 43.7,95.8 45.0,91.6 46.4,92.7 47.7,241.3 49.1,93.8 50.4,93.3 51.8,94.5 53.1,92.5 54.5,93.8 55.8,93.8 57.2,92.1 58.5,92.8 59.9,195.1 61.2,93.6 62.6,95.3 64.0,232.4 65.3,92.9 66.7,95.8 68.0,92.0 69.4,90.7 70.7,93.0 72.1,212.8 73.4,93.8 74.8,93.1 76.1,92.8 77.5,92.7 78.8,94.7 80.2,94.4 81.5,92.4 82.9,88.9 84.2,93.1 85.6,93.6 86.9,92.6 88.3,297.2 89.6,93.4 91.0,97.6 92.3,211.2 93.7,94.7 95.0,95.2 96.4,179.6 97.7,95.1 99.1,305.0 100.4,351.3 101.8,305.0 103.1,354.4 104.5,353.2 105.9,305.0 107.2,305.0 108.6,352.1 109.9,305.0 111.3,305.0 112.6,351.9 114.0,305.0 115.3,305.0 116.7,354.8 118.0,305.0 119.4,305.0 120.7,348.2 122.1,305.0 123.4,305.0 124.8,349.7 126.1,305.0 127.5,305.0 128.8,350.7 130.2,305.0 131.5,305.0 132.9,417.4 134.2,305.0 135.6,305.0 136.9,354.4 138.3,305.0 139.6,305.0 141.0,348.1 142.3,305.0 143.7,305.0 145.0,353.4 146.4,305.0 147.8,305.0 149.1,347.0 150.5,305.0 151.8,347.0 153.2,351.7 154.5,305.0 155.9,305.0 157.2,353.6 158.6,305.0 159.9,305.0 161.3,352.2 162.6,305.0 164.0,305.0 165.3,350.5 166.7,305.0 168.0,305.0 169.4,355.2 170.7,305.0 172.1,305.0 173.4,349.2 174.8,305.0 176.1,305.0 177.5,403.2 178.8,405.9 180.2,405.6 181.5,407.2 182.9,404.1 184.2,416.4 185.6,406.3 186.9,306.0 188.3,419.2 189.6,404.8 191.0,405.6 192.4,404.4 193.7,405.1 195.1,404.8 196.4,417.9 197.8,405.7 199.1,301.9 200.5,406.6 201.8,418.8 203.2,403.9 204.5,417.5 205.9,404.7 207.2,417.1 208.6,405.1 209.9,406.8 211.3,406.1 212.6,417.7 214.0,406.0 215.3,405.3 216.7,417.5 218.0,407.4 219.4,306.0 220.7,407.2 222.1,404.8 223.4,405.8 224.8,416.9 226.1,404.2 227.5,406.4 228.8,405.6 230.2,405.6 231.5,419.1 232.9,407.2 234.3,405.3 235.6,405.0 237.0,405.9 238.3,407.9 239.7,417.3 241.0,404.4 242.4,417.7 243.7,405.9 245.1,406.0 246.4,405.8 247.8,407.5 249.1,418.3 250.5,406.4 251.8,406.6 253.2,406.1 254.5,404.5 255.9,405.3 257.2,405.5 258.6,418.6 259.9,405.2 261.3,405.6 262.6,406.0 264.0,417.1 265.3,417.6 266.7,405.1 268.0,407.3 269.4,406.2 270.7,404.9 272.1,415.9 273.4,417.3 274.8,405.8 276.2,417.8 277.5,405.4 278.9,403.9 280.2,405.6 281.6,406.7 282.9,418.5 284.3,306.0 285.6,404.5 287.0,406.2 288.3,417.6 289.7,415.9 291.0,417.0 292.4,417.7 293.7,415.3 295.1,416.2 296.4,414.1 297.8,414.7 299.1,415.5 300.5,416.4 301.8,415.6 303.2,416.9 304.5,415.3 305.9,415.2 307.2,416.4 308.6,416.5 309.9,417.3 311.3,416.4 312.6,407.6 314.0,414.5 315.3,417.3 316.7,414.4 318.1,417.1 319.4,416.7 320.8,416.6 322.1,415.8 323.5,417.4 324.8,405.9 326.2,414.8 327.5,416.3 328.9,416.0 330.2,414.6 331.6,416.2 332.9,415.6 334.3,416.5 335.6,416.5 337.0,417.3 338.3,416.4 339.7,415.3 341.0,415.6 342.4,417.2 343.7,403.5 345.1,416.2 346.4,417.3 347.8,415.7 349.1,415.6 350.5,414.2 351.8,415.3 353.2,416.4 354.5,417.0 355.9,416.7 357.2,416.5 358.6,416.2 360.0,416.0 361.3,416.0 362.7,415.2 364.0,416.6 365.4,416.4 366.7,415.6 368.1,414.8 369.4,409.9 370.8,416.3 372.1,416.6 373.5,415.7 374.8,415.8 376.2,416.2 377.5,407.3 378.9,417.0 380.2,415.7 381.6,415.9 382.9,416.7 384.3,414.4 385.6,417.2 387.0,414.8 388.3,416.4 389.7,414.5 391.0,415.9 392.4,415.3 393.7,417.4 395.1,417.4 396.4,416.8 397.8,415.1 399.1,416.7 400.5,415.9 401.9,416.1 403.2,416.5 404.6,415.5 405.9,414.4 407.3,416.5 408.6,415.3 410.0,416.6 411.3,417.1 412.7,416.2 414.0,415.9 415.4,415.5 416.7,417.1 418.1,414.6 419.4,414.3 420.8,415.5 422.1,414.9 423.5,416.4 424.8,414.6 426.2,413.9 427.5,413.8 428.9,414.8 430.2,413.2 431.6,413.7 432.9,415.0 434.3,415.1 435.6,414.8 437.0,415.0 438.3,413.1 439.7,413.2 441.0,412.0 442.4,413.8 443.8,410.9 445.1,413.6 446.5,413.4 447.8,411.4 449.2,399.1 450.5,411.9 451.9,412.1 453.2,410.8 454.6,412.1 455.9,404.3 457.3,413.0 458.6,411.3 460.0,411.9 461.3,411.2 462.7,406.0 464.0,408.7 465.4,409.2 466.7,414.8 468.1,409.1 469.4,407.8 470.8,407.5 472.1,403.5 473.5,409.2 474.8,409.5 476.2,410.9 477.5,400.3 478.9,411.0 480.2,407.2 481.6,409.9 482.9,414.7 484.3,404.1 485.7,405.5 487.0,404.0 488.4,406.6 489.7,407.9 491.1,394.5 492.4,393.3 493.8,409.2 495.1,407.2 496.5,408.9 497.8,405.0 499.2,409.0 500.5,406.0 501.9,405.4 503.2,414.4 504.6,404.5 505.9,392.9 507.3,402.2 508.6,404.8 510.0,405.9 511.3,408.7 512.7,403.1 514.0,405.1 515.4,408.1 516.7,400.2 518.1,406.9 519.4,407.6 520.8,402.9 522.1,406.3 523.5,406.1 524.8,406.8 526.2,404.7 527.5,415.3 528.9,414.0 530.3,398.8 531.6,407.7 533.0,391.0 534.3,404.5 535.7,408.1 537.0,408.8 538.4,406.7 539.7,407.8 541.1,406.2 542.4,402.7 543.8,405.6 545.1,405.3 546.5,406.4 547.8,413.0 549.2,399.9 550.5,414.4 551.9,406.2 553.2,404.0 554.6,404.1 555.9,405.5 557.3,413.3 558.6,409.8 560.0,400.7 561.3,408.7 562.7,406.4 564.0,400.7 565.4,406.1 566.7,415.6 568.1,406.5 569.4,413.1 570.8,396.1 572.2,397.2 573.5,395.8 574.9,405.1 576.2,406.5 577.6,406.7 578.9,414.6 580.3,406.1 581.6,415.2 583.0,405.5 584.3,399.6 585.7,403.8 587.0,414.8 588.4,405.2 589.7,415.6 591.1,406.7 592.4,414.0 593.8,406.9 595.1,414.6 596.5,393.6 597.8,400.8 599.2,408.8 600.5,409.1 601.9,407.1 603.2,397.6 604.6,405.1 605.9,405.8 607.3,405.4 608.6,415.3 610.0,406.1 611.3,402.8 612.7,404.4 614.1,405.8 615.4,405.5 616.8,406.9 618.1,407.8 619.5,407.7 620.8,413.5 622.2,397.7 623.5,404.2 624.9,405.8 626.2,415.9 627.6,413.7 628.9,393.4 630.3,393.1 631.6,414.6 633.0,393.6 634.3,414.8 635.7,414.3 637.0,406.9 638.4,415.1 639.7,405.1 641.1,405.8 642.4,407.5 643.8,407.5 645.1,406.2 646.5,405.7 647.8,415.8 649.2,413.1 650.5,406.3 651.9,415.2 653.2,406.0 654.6,413.1 656.0,407.3 657.3,402.5 658.7,396.3 660.0,406.3 661.4,408.9 662.7,397.8 664.1,402.8 665.4,413.0 666.8,413.1 668.1,407.2 669.5,403.3 670.8,413.8 672.2,415.4 673.5,415.7 674.9,404.6 676.2,399.2 677.6,403.9 678.9,409.5 680.3,402.3 681.6,407.6 683.0,395.9 684.3,414.1 685.7,415.5 687.0,405.8 688.4,404.1 689.7,415.6 691.1,405.3 692.4,406.7" fill="none" stroke="#4DBEEE" stroke-width="0.9" stroke-linejoin="round" marker-start="url(#mdf)" marker-mid="url(#mdf)" marker-end="url(#mdf)" />
<polyline points="20.7,81.9 22.1,112.0 23.4,181.3 24.8,150.0 26.1,164.9 27.5,187.0 28.8,133.0 30.2,76.8 31.5,137.8 32.9,113.9 34.2,125.5 35.6,122.5 36.9,142.0 38.3,180.7 39.6,62.6 41.0,172.0 42.3,183.2 43.7,167.2 45.0,101.8 46.4,82.8 47.7,192.0 49.1,116.3 50.4,183.3 51.8,75.6 53.1,147.4 54.5,95.8 55.8,63.5 57.2,77.5 58.5,125.6 59.9,157.3 61.2,87.1 62.6,149.9 64.0,147.9 65.3,177.5 66.7,166.4 68.0,186.9 69.4,71.5 70.7,5.5 72.1,148.9 73.4,182.1 74.8,162.5 76.1,113.3 77.5,188.3 78.8,124.4 80.2,137.3 81.5,117.5 82.9,180.1 84.2,188.4 85.6,225.2 86.9,181.0 88.3,72.3 89.6,375.3 91.0,389.8 92.3,357.8 93.7,364.6 95.0,381.4 96.4,390.3 97.7,377.8 99.1,388.9 100.4,363.8 101.8,341.1 103.1,369.4 104.5,380.4 105.9,380.5 107.2,378.9 108.6,382.5 109.9,389.9 111.3,375.2 112.6,392.7 114.0,373.2 115.3,377.3 116.7,357.9 118.0,353.2 119.4,365.4 120.7,371.1 122.1,390.7 123.4,372.8 124.8,383.3 126.1,389.2 127.5,367.3 128.8,380.6 130.2,353.2 131.5,391.2 132.9,368.9 134.2,364.4 135.6,366.9 136.9,352.8 138.3,350.3 139.6,380.1 141.0,386.8 142.3,366.2 143.7,369.8 145.0,370.9 146.4,362.2 147.8,384.7 149.1,376.2 150.5,370.4 151.8,368.9 153.2,355.1 154.5,361.1 155.9,382.7 157.2,370.7 158.6,362.6 159.9,351.7 161.3,360.3 162.6,365.0 164.0,356.8 165.3,385.8 166.7,372.0 168.0,392.1 169.4,365.9 170.7,374.4 172.1,373.0 173.4,356.9 174.8,374.3 176.1,395.7 177.5,398.1 178.8,349.1 180.2,386.7 181.5,387.5 182.9,369.7 184.2,347.7 185.6,361.9 186.9,358.8 188.3,391.9 189.6,368.4 191.0,368.4 192.4,383.1 193.7,394.1 195.1,367.1 196.4,364.6 197.8,392.1 199.1,356.3 200.5,382.8 201.8,363.2 203.2,373.7 204.5,388.0 205.9,374.0 207.2,383.6 208.6,389.7 209.9,357.4 211.3,376.3 212.6,350.2 214.0,367.5 215.3,351.4 216.7,357.3 218.0,369.5 219.4,374.7 220.7,357.9 222.1,352.1 223.4,366.0 224.8,380.2 226.1,365.9 227.5,384.7 228.8,352.7 230.2,361.4 231.5,365.5 232.9,376.7 234.3,367.9 235.6,380.3 237.0,342.2 238.3,383.6 239.7,355.0 241.0,375.3 242.4,381.4 243.7,348.9 245.1,374.6 246.4,376.4 247.8,362.8 249.1,381.1 250.5,378.9 251.8,368.7 253.2,397.7 254.5,384.0 255.9,376.6 257.2,379.8 258.6,397.4 259.9,383.9 261.3,363.4 262.6,368.6 264.0,367.5 265.3,389.9 266.7,389.8 268.0,389.5 269.4,393.9 270.7,351.4 272.1,368.2 273.4,361.3 274.8,342.5 276.2,370.7 277.5,397.1 278.9,351.1 280.2,382.5 281.6,377.8 282.9,385.7 284.3,358.9 285.6,381.7 287.0,394.3 288.3,366.4 289.7,383.2 291.0,382.3 292.4,366.2 293.7,389.7 295.1,350.2 296.4,368.2 297.8,383.6 299.1,391.1 300.5,335.3 301.8,355.3 303.2,370.1 304.5,390.1 305.9,390.4 307.2,377.5 308.6,375.4 309.9,379.9 311.3,362.1 312.6,387.6 314.0,352.6 315.3,360.6 316.7,364.6 318.1,370.0 319.4,390.4 320.8,377.4 322.1,383.8 323.5,350.4 324.8,382.0 326.2,357.5 327.5,368.6 328.9,366.5 330.2,356.4 331.6,374.1 332.9,390.1 334.3,390.7 335.6,364.3 337.0,393.4 338.3,390.0 339.7,372.8 341.0,383.4 342.4,367.4 343.7,350.7 345.1,359.7 346.4,374.5 347.8,372.9 349.1,357.4 350.5,384.8 351.8,383.1 353.2,376.2 354.5,360.4 355.9,376.7 357.2,361.5 358.6,351.2 360.0,374.7 361.3,362.3 362.7,388.3 364.0,374.2 365.4,370.5 366.7,377.5 368.1,341.5 369.4,380.2 370.8,388.2 372.1,384.8 373.5,369.2 374.8,356.7 376.2,364.9 377.5,354.7 378.9,353.8 380.2,389.1 381.6,355.4 382.9,368.2 384.3,393.1 385.6,380.4 387.0,358.8 388.3,391.0 389.7,350.7 391.0,361.7 392.4,378.4 393.7,389.4 395.1,354.4 396.4,381.7 397.8,372.6 399.1,386.0 400.5,353.3 401.9,353.0 403.2,362.9 404.6,375.7 405.9,359.1 407.3,386.6 408.6,378.4 410.0,372.9 411.3,391.1 412.7,380.2 414.0,358.7 415.4,357.4 416.7,354.5 418.1,364.0 419.4,377.6 420.8,356.8 422.1,362.9 423.5,356.4 424.8,363.4 426.2,385.8 427.5,351.8 428.9,376.0 430.2,380.3 431.6,342.7 432.9,376.6 434.3,378.8 435.6,373.2 437.0,378.3 438.3,360.0 439.7,389.4 441.0,386.6 442.4,373.0 443.8,353.1 445.1,364.2 446.5,378.4 447.8,359.4 449.2,355.4 450.5,350.5 451.9,366.6 453.2,385.4 454.6,371.8 455.9,362.8 457.3,389.2 458.6,383.5 460.0,387.8 461.3,390.3 462.7,379.0 464.0,369.9 465.4,354.1 466.7,357.1 468.1,359.5 469.4,360.8 470.8,336.6 472.1,375.8 473.5,372.7 474.8,377.6 476.2,385.7 477.5,378.4 478.9,359.4 480.2,375.4 481.6,374.9 482.9,368.7 484.3,360.0 485.7,359.0 487.0,359.2 488.4,363.1 489.7,379.4 491.1,361.9 492.4,363.1 493.8,353.2 495.1,388.5 496.5,391.5 497.8,368.1 499.2,385.8 500.5,361.9 501.9,380.3 503.2,365.0 504.6,377.9 505.9,372.0 507.3,354.6 508.6,361.2 510.0,366.1 511.3,376.0 512.7,357.5 514.0,393.2 515.4,359.5 516.7,360.1 518.1,381.9 519.4,376.6 520.8,365.2 522.1,393.9 523.5,354.4 524.8,394.1 526.2,367.6 527.5,392.4 528.9,388.5 530.3,391.3 531.6,378.8 533.0,373.1 534.3,367.9 535.7,355.3 537.0,374.7 538.4,380.9 539.7,394.0 541.1,391.7 542.4,391.0 543.8,354.9 545.1,353.7 546.5,384.5 547.8,365.1 549.2,362.9 550.5,393.2 551.9,373.0 553.2,360.3 554.6,357.0 555.9,363.1 557.3,373.4 558.6,378.1 560.0,387.7 561.3,392.3 562.7,379.8 564.0,352.9 565.4,360.8 566.7,366.8 568.1,337.9 569.4,384.2 570.8,365.0 572.2,383.2 573.5,378.4 574.9,369.9 576.2,368.8 577.6,390.4 578.9,355.2 580.3,384.0 581.6,393.6 583.0,393.1 584.3,363.3 585.7,382.4 587.0,382.1 588.4,357.5 589.7,377.1 591.1,375.4 592.4,358.9 593.8,361.2 595.1,379.1 596.5,387.6 597.8,382.2 599.2,361.1 600.5,389.8 601.9,380.6 603.2,373.7 604.6,367.0 605.9,384.7 607.3,375.3 608.6,375.2 610.0,362.8 611.3,364.1 612.7,354.9 614.1,365.1 615.4,357.7 616.8,374.9 618.1,382.8 619.5,334.9 620.8,383.7 622.2,379.0 623.5,393.6 624.9,350.8 626.2,352.7 627.6,372.2 628.9,374.7 630.3,380.7 631.6,372.8 633.0,386.1 634.3,393.2 635.7,355.7 637.0,379.5 638.4,364.3 639.7,356.9 641.1,366.9 642.4,364.7 643.8,343.7 645.1,352.1 646.5,389.7 647.8,369.7 649.2,334.7 650.5,390.7 651.9,362.7 653.2,351.0 654.6,372.1 656.0,337.6 657.3,375.7 658.7,362.1 660.0,373.6 661.4,390.8 662.7,381.3 664.1,381.7 665.4,382.4 666.8,372.9 668.1,387.4 669.5,359.4 670.8,366.0 672.2,378.1 673.5,380.9 674.9,380.9 676.2,353.6 677.6,385.0 678.9,377.0 680.3,369.9 681.6,355.9 683.0,351.1 684.3,385.7 685.7,366.4 687.0,351.0 688.4,358.0 689.7,378.2 691.1,393.1 692.4,385.6" fill="none" stroke="#A2142F" stroke-width="0.9" stroke-linejoin="round" marker-start="url(#mp)" marker-mid="url(#mp)" marker-end="url(#mp)" />
<polyline points="20.7,112.6 22.1,83.3 23.4,92.3 24.8,133.5 26.1,107.1 27.5,147.0 28.8,151.2 30.2,116.5 31.5,67.7 32.9,67.8 34.2,69.3 35.6,114.9 36.9,100.6 38.3,145.7 39.6,91.3 41.0,87.6 42.3,71.7 43.7,152.9 45.0,122.2 46.4,102.9 47.7,112.4 49.1,155.4 50.4,101.6 51.8,91.0 53.1,78.9 54.5,159.2 55.8,138.6 57.2,77.7 58.5,98.3 59.9,87.8 61.2,134.5 62.6,147.7 64.0,116.6 65.3,126.9 66.7,140.0 68.0,116.3 69.4,158.3 70.7,71.1 72.1,136.4 73.4,44.4 74.8,86.3 76.1,144.7 77.5,146.1 78.8,107.0 80.2,131.3 81.5,22.1 82.9,81.2 84.2,70.8 85.6,75.9 86.9,152.3 88.3,35.6 89.6,368.1 91.0,346.2 92.3,343.7 93.7,364.4 95.0,358.6 96.4,359.5 97.7,367.9 99.1,378.4 100.4,379.9 101.8,360.9 103.1,362.8 104.5,364.5 105.9,363.4 107.2,361.8 108.6,369.4 109.9,385.9 111.3,388.6 112.6,352.6 114.0,365.0 115.3,381.6 116.7,375.1 118.0,360.5 119.4,347.9 120.7,351.9 122.1,360.9 123.4,361.4 124.8,379.0 126.1,363.2 127.5,372.6 128.8,364.9 130.2,385.5 131.5,360.8 132.9,372.3 134.2,356.1 135.6,384.9 136.9,359.1 138.3,364.8 139.6,374.7 141.0,363.1 142.3,376.4 143.7,352.3 145.0,386.7 146.4,336.4 147.8,378.9 149.1,385.9 150.5,390.9 151.8,362.7 153.2,372.6 154.5,380.8 155.9,381.1 157.2,386.3 158.6,362.5 159.9,364.3 161.3,364.3 162.6,387.0 164.0,364.3 165.3,376.2 166.7,329.9 168.0,378.6 169.4,362.8 170.7,354.0 172.1,390.7 173.4,361.4 174.8,361.1 176.1,329.3 177.5,375.0 178.8,357.3 180.2,331.1 181.5,355.0 182.9,355.5 184.2,329.3 185.6,357.7 186.9,351.4 188.3,353.5 189.6,388.5 191.0,372.8 192.4,377.6 193.7,366.9 195.1,364.1 196.4,345.2 197.8,342.8 199.1,339.3 200.5,351.9 201.8,360.3 203.2,371.1 204.5,394.1 205.9,345.7 207.2,350.7 208.6,362.3 209.9,361.9 211.3,356.4 212.6,360.1 214.0,330.0 215.3,356.3 216.7,370.1 218.0,376.4 219.4,367.4 220.7,367.5 222.1,355.4 223.4,359.3 224.8,367.3 226.1,329.3 227.5,363.8 228.8,367.9 230.2,364.9 231.5,348.1 232.9,352.6 234.3,366.8 235.6,373.2 237.0,330.7 238.3,376.2 239.7,376.1 241.0,361.0 242.4,359.9 243.7,357.6 245.1,372.3 246.4,348.5 247.8,361.5 249.1,344.4 250.5,360.7 251.8,349.8 253.2,358.9 254.5,342.7 255.9,345.1 257.2,371.4 258.6,355.9 259.9,342.4 261.3,360.7 262.6,345.7 264.0,366.9 265.3,366.1 266.7,343.6 268.0,365.3 269.4,375.2 270.7,362.0 272.1,359.7 273.4,353.5 274.8,357.1 276.2,355.7 277.5,343.7 278.9,348.6 280.2,372.1 281.6,376.5 282.9,340.7 284.3,358.5 285.6,354.3 287.0,367.3 288.3,362.1 289.7,337.2 291.0,354.4 292.4,359.5 293.7,369.2 295.1,383.6 296.4,369.9 297.8,379.7 299.1,363.2 300.5,388.6 301.8,366.0 303.2,375.3 304.5,364.8 305.9,372.1 307.2,359.3 308.6,393.8 309.9,371.8 311.3,364.3 312.6,351.8 314.0,370.0 315.3,374.5 316.7,372.4 318.1,361.7 319.4,368.6 320.8,381.6 322.1,376.0 323.5,380.5 324.8,371.9 326.2,369.6 327.5,355.2 328.9,366.0 330.2,380.1 331.6,369.3 332.9,378.0 334.3,373.3 335.6,371.1 337.0,367.1 338.3,371.9 339.7,363.7 341.0,353.4 342.4,350.9 343.7,344.6 345.1,372.0 346.4,374.9 347.8,373.7 349.1,361.8 350.5,373.0 351.8,368.3 353.2,383.9 354.5,371.4 355.9,351.2 357.2,339.5 358.6,376.9 360.0,370.1 361.3,360.5 362.7,375.7 364.0,355.1 365.4,350.8 366.7,349.5 368.1,360.8 369.4,366.7 370.8,378.2 372.1,366.9 373.5,363.9 374.8,392.7 376.2,364.5 377.5,363.4 378.9,359.4 380.2,338.3 381.6,363.4 382.9,360.9 384.3,354.6 385.6,367.5 387.0,364.3 388.3,388.4 389.7,379.6 391.0,372.1 392.4,389.3 393.7,355.7 395.1,359.6 396.4,359.2 397.8,367.3 399.1,394.1 400.5,357.2 401.9,367.6 403.2,342.9 404.6,356.0 405.9,384.2 407.3,389.7 408.6,369.9 410.0,368.2 411.3,365.1 412.7,344.5 414.0,343.2 415.4,356.1 416.7,360.0 418.1,367.7 419.4,356.8 420.8,389.1 422.1,355.1 423.5,332.0 424.8,344.8 426.2,390.9 427.5,355.7 428.9,359.8 430.2,367.8 431.6,346.6 432.9,379.7 434.3,382.8 435.6,375.7 437.0,355.6 438.3,356.2 439.7,329.4 441.0,361.8 442.4,334.5 443.8,377.4 445.1,378.2 446.5,370.1 447.8,361.1 449.2,378.8 450.5,360.2 451.9,362.4 453.2,362.0 454.6,391.7 455.9,369.0 457.3,375.0 458.6,361.1 460.0,394.1 461.3,354.1 462.7,355.5 464.0,387.6 465.4,364.2 466.7,339.2 468.1,389.3 469.4,359.8 470.8,354.6 472.1,370.7 473.5,351.9 474.8,376.4 476.2,352.9 477.5,364.2 478.9,351.4 480.2,355.2 481.6,370.3 482.9,376.6 484.3,364.8 485.7,361.1 487.0,350.1 488.4,375.9 489.7,368.9 491.1,375.4 492.4,347.5 493.8,388.1 495.1,373.2 496.5,360.2 497.8,365.2 499.2,376.5 500.5,365.6 501.9,355.4 503.2,366.9 504.6,360.6 505.9,369.2 507.3,338.8 508.6,369.7 510.0,365.6 511.3,377.4 512.7,380.3 514.0,372.6 515.4,354.3 516.7,366.5 518.1,358.2 519.4,375.6 520.8,384.7 522.1,360.2 523.5,370.5 524.8,366.7 526.2,360.3 527.5,356.2 528.9,357.9 530.3,363.7 531.6,378.1 533.0,362.5 534.3,376.9 535.7,365.7 537.0,373.1 538.4,384.0 539.7,361.6 541.1,344.6 542.4,362.7 543.8,376.4 545.1,379.5 546.5,359.7 547.8,377.2 549.2,384.4 550.5,366.6 551.9,366.0 553.2,364.8 554.6,360.1 555.9,378.3 557.3,366.5 558.6,358.0 560.0,361.2 561.3,349.4 562.7,336.6 564.0,372.5 565.4,376.1 566.7,354.1 568.1,364.2 569.4,358.3 570.8,374.9 572.2,365.2 573.5,361.6 574.9,359.7 576.2,371.5 577.6,362.6 578.9,371.0 580.3,348.3 581.6,378.9 583.0,364.5 584.3,386.5 585.7,394.1 587.0,381.5 588.4,347.7 589.7,342.4 591.1,363.2 592.4,368.8 593.8,385.3 595.1,357.0 596.5,362.9 597.8,365.8 599.2,362.4 600.5,369.6 601.9,334.5 603.2,380.7 604.6,359.8 605.9,365.2 607.3,360.2 608.6,362.6 610.0,368.8 611.3,378.4 612.7,361.0 614.1,369.1 615.4,369.2 616.8,334.7 618.1,381.4 619.5,369.3 620.8,370.3 622.2,349.6 623.5,355.6 624.9,380.4 626.2,358.5 627.6,388.0 628.9,380.2 630.3,359.4 631.6,374.7 633.0,365.8 634.3,362.2 635.7,379.9 637.0,357.1 638.4,367.8 639.7,379.0 641.1,358.2 642.4,364.2 643.8,345.1 645.1,353.8 646.5,358.0 647.8,374.6 649.2,359.2 650.5,367.6 651.9,365.8 653.2,357.3 654.6,374.2 656.0,347.9 657.3,358.6 658.7,373.4 660.0,363.9 661.4,360.0 662.7,359.9 664.1,337.0 665.4,385.5 666.8,373.5 668.1,365.7 669.5,367.3 670.8,374.7 672.2,361.7 673.5,363.6 674.9,357.4 676.2,360.0 677.6,355.0 678.9,387.4 680.3,362.3 681.6,394.1 683.0,369.7 684.3,364.5 685.7,378.7 687.0,352.3 688.4,354.3 689.7,365.9 691.1,354.6 692.4,351.2" fill="none" stroke="none" stroke-width="0.9" stroke-linejoin="round" marker-start="url(#mh)" marker-mid="url(#mh)" marker-end="url(#mh)" />
<polyline points="20.7,112.6 22.1,83.3 23.4,92.3 24.8,133.5 26.1,107.1 27.5,147.0 28.8,151.2 30.2,116.5 31.5,67.7 32.9,67.8 34.2,69.3 35.6,114.9 36.9,100.6 38.3,145.7 39.6,91.3 41.0,87.6 42.3,71.7 43.7,152.9 45.0,122.2 46.4,102.9 47.7,112.4 49.1,155.4 50.4,101.6 51.8,91.0 53.1,78.9 54.5,159.2 55.8,138.6 57.2,77.7 58.5,98.3 59.9,87.8 61.2,134.5 62.6,147.7 64.0,116.6 65.3,126.9 66.7,140.0 68.0,116.3 69.4,158.3 70.7,71.1 72.1,136.4 73.4,44.4 74.8,86.3 76.1,144.7 77.5,146.1 78.8,107.0 80.2,131.3 81.5,22.1 82.9,81.2 84.2,70.8 85.6,75.9 86.9,152.3 88.3,35.6 89.6,368.1 91.0,346.2 92.3,343.7 93.7,364.4 95.0,358.6 96.4,359.5 97.7,367.9 99.1,378.4 100.4,379.9 101.8,360.9 103.1,362.8 104.5,364.5 105.9,363.4 107.2,361.8 108.6,369.4 109.9,385.9 111.3,388.6 112.6,352.6 114.0,365.0 115.3,381.6 116.7,375.1 118.0,360.5 119.4,347.9 120.7,351.9 122.1,360.9 123.4,361.4 124.8,379.0 126.1,363.2 127.5,372.6 128.8,364.9 130.2,385.5 131.5,360.8 132.9,372.3 134.2,356.1 135.6,384.9 136.9,359.1 138.3,364.8 139.6,374.7 141.0,363.1 142.3,376.4 143.7,352.3 145.0,386.7 146.4,336.4 147.8,378.9 149.1,385.9 150.5,390.9 151.8,362.7 153.2,372.6 154.5,380.8 155.9,381.1 157.2,386.3 158.6,362.5 159.9,364.3 161.3,364.3 162.6,387.0 164.0,364.3 165.3,376.2 166.7,329.9 168.0,378.6 169.4,362.8 170.7,354.0 172.1,390.7 173.4,361.4 174.8,361.1 176.1,329.3 177.5,375.0 178.8,357.3 180.2,331.1 181.5,355.0 182.9,355.5 184.2,329.3 185.6,357.7 186.9,351.4 188.3,353.5 189.6,388.5 191.0,372.8 192.4,377.6 193.7,366.9 195.1,364.1 196.4,345.2 197.8,342.8 199.1,339.3 200.5,351.9 201.8,360.3 203.2,371.1 204.5,394.1 205.9,345.7 207.2,350.7 208.6,362.3 209.9,361.9 211.3,356.4 212.6,360.1 214.0,330.0 215.3,356.3 216.7,370.1 218.0,376.4 219.4,367.4 220.7,367.5 222.1,355.4 223.4,359.3 224.8,367.3 226.1,329.3 227.5,363.8 228.8,367.9 230.2,364.9 231.5,348.1 232.9,352.6 234.3,366.8 235.6,373.2 237.0,330.7 238.3,376.2 239.7,376.1 241.0,361.0 242.4,359.9 243.7,357.6 245.1,372.3 246.4,348.5 247.8,361.5 249.1,344.4 250.5,360.7 251.8,349.8 253.2,358.9 254.5,342.7 255.9,345.1 257.2,371.4 258.6,355.9 259.9,342.4 261.3,360.7 262.6,345.7 264.0,366.9 265.3,366.1 266.7,343.6 268.0,365.3 269.4,375.2 270.7,362.0 272.1,359.7 273.4,353.5 274.8,357.1 276.2,355.7 277.5,343.7 278.9,348.6 280.2,372.1 281.6,376.5 282.9,340.7 284.3,358.5 285.6,354.3 287.0,367.3 288.3,362.1 289.7,337.2 291.0,354.4 292.4,359.5 293.7,369.2 295.1,383.6 296.4,369.9 297.8,379.7 299.1,363.2 300.5,388.6 301.8,366.0 303.2,375.3 304.5,364.8 305.9,372.1 307.2,359.3 308.6,393.8 309.9,371.8 311.3,364.3 312.6,351.8 314.0,370.0 315.3,374.5 316.7,372.4 318.1,361.7 319.4,368.6 320.8,381.6 322.1,376.0 323.5,380.5 324.8,371.9 326.2,369.6 327.5,355.2 328.9,366.0 330.2,380.1 331.6,369.3 332.9,378.0 334.3,373.3 335.6,371.1 337.0,367.1 338.3,371.9 339.7,363.7 341.0,353.4 342.4,350.9 343.7,344.6 345.1,372.0 346.4,374.9 347.8,373.7 349.1,361.8 350.5,373.0 351.8,368.3 353.2,383.9 354.5,371.4 355.9,351.2 357.2,339.5 358.6,376.9 360.0,370.1 361.3,360.5 362.7,375.7 364.0,355.1 365.4,350.8 366.7,349.5 368.1,360.8 369.4,366.7 370.8,378.2 372.1,366.9 373.5,363.9 374.8,392.7 376.2,364.5 377.5,363.4 378.9,359.4 380.2,338.3 381.6,363.4 382.9,360.9 384.3,354.6 385.6,367.5 387.0,364.3 388.3,388.4 389.7,379.6 391.0,372.1 392.4,389.3 393.7,355.7 395.1,359.6 396.4,359.2 397.8,367.3 399.1,394.1 400.5,357.2 401.9,367.6 403.2,342.9 404.6,356.0 405.9,384.2 407.3,389.7 408.6,369.9 410.0,368.2 411.3,365.1 412.7,344.5 414.0,343.2 415.4,356.1 416.7,360.0 418.1,367.7 419.4,356.8 420.8,389.1 422.1,355.1 423.5,332.0 424.8,344.8 426.2,390.9 427.5,355.7 428.9,359.8 430.2,367.8 431.6,346.6 432.9,379.7 434.3,382.8 435.6,375.7 437.0,355.6 438.3,356.2 439.7,329.4 441.0,361.8 442.4,334.5 443.8,377.4 445.1,378.2 446.5,370.1 447.8,361.1 449.2,378.8 450.5,360.2 451.9,362.4 453.2,362.0 454.6,391.7 455.9,369.0 457.3,375.0 458.6,361.1 460.0,394.1 461.3,354.1 462.7,355.5 464.0,387.6 465.4,364.2 466.7,339.2 468.1,389.3 469.4,359.8 470.8,354.6 472.1,370.7 473.5,351.9 474.8,376.4 476.2,352.9 477.5,364.2 478.9,351.4 480.2,355.2 481.6,370.3 482.9,376.6 484.3,364.8 485.7,361.1 487.0,350.1 488.4,375.9 489.7,368.9 491.1,375.4 492.4,347.5 493.8,388.1 495.1,373.2 496.5,360.2 497.8,365.2 499.2,376.5 500.5,365.6 501.9,355.4 503.2,366.9 504.6,360.6 505.9,369.2 507.3,338.8 508.6,369.7 510.0,365.6 511.3,377.4 512.7,380.3 514.0,372.6 515.4,354.3 516.7,366.5 518.1,358.2 519.4,375.6 520.8,384.7 522.1,360.2 523.5,370.5 524.8,366.7 526.2,360.3 527.5,356.2 528.9,357.9 530.3,363.7 531.6,378.1 533.0,362.5 534.3,376.9 535.7,365.7 537.0,373.1 538.4,384.0 539.7,361.6 541.1,344.6 542.4,362.7 543.8,376.4 545.1,379.5 546.5,359.7 547.8,377.2 549.2,384.4 550.5,366.6 551.9,366.0 553.2,364.8 554.6,360.1 555.9,378.3 557.3,366.5 558.6,358.0 560.0,361.2 561.3,349.4 562.7,336.6 564.0,372.5 565.4,376.1 566.7,354.1 568.1,364.2 569.4,358.3 570.8,374.9 572.2,365.2 573.5,361.6 574.9,359.7 576.2,371.5 577.6,362.6 578.9,371.0 580.3,348.3 581.6,378.9 583.0,364.5 584.3,386.5 585.7,394.1 587.0,381.5 588.4,347.7 589.7,342.4 591.1,363.2 592.4,368.8 593.8,385.3 595.1,357.0 596.5,362.9 597.8,365.8 599.2,362.4 600.5,369.6 601.9,334.5 603.2,380.7 604.6,359.8 605.9,365.2 607.3,360.2 608.6,362.6 610.0,368.8 611.3,378.4 612.7,361.0 614.1,369.1 615.4,369.2 616.8,334.7 618.1,381.4 619.5,369.3 620.8,370.3 622.2,349.6 623.5,355.6 624.9,380.4 626.2,358.5 627.6,388.0 628.9,380.2 630.3,359.4 631.6,374.7 633.0,365.8 634.3,362.2 635.7,379.9 637.0,357.1 638.4,367.8 639.7,379.0 641.1,358.2 642.4,364.2 643.8,345.1 645.1,353.8 646.5,358.0 647.8,374.6 649.2,359.2 650.5,367.6 651.9,365.8 653.2,357.3 654.6,374.2 656.0,347.9 657.3,358.6 658.7,373.4 660.0,363.9 661.4,360.0 662.7,359.9 664.1,337.0 665.4,385.5 666.8,373.5 668.1,365.7 669.5,367.3 670.8,374.7 672.2,361.7 673.5,363.6 674.9,357.4 676.2,360.0 677.6,355.0 678.9,387.4 680.3,362.3 681.6,394.1 683.0,369.7 684.3,364.5 685.7,378.7 687.0,352.3 688.4,354.3 689.7,365.9 691.1,354.6 692.4,351.2" fill="none" stroke="#D95319" stroke-width="0.9" stroke-linejoin="round" marker-start="url(#mpl)" marker-mid="url(#mpl)" marker-end="url(#mpl)" />
</g>
<path d="M20.7 420.2H696.5V5.5H20.7Z" fill="none" stroke="#3a3a3a" stroke-width="1.1"/>
<path d="M20.70 420V411.8M20.70 5.5V13.7M88.28 420V411.8M88.28 5.5V13.7M155.86 420V411.8M155.86 5.5V13.7M223.44 420V411.8M223.44 5.5V13.7M291.02 420V411.8M291.02 5.5V13.7M358.60 420V411.8M358.60 5.5V13.7M426.18 420V411.8M426.18 5.5V13.7M493.76 420V411.8M493.76 5.5V13.7M561.34 420V411.8M561.34 5.5V13.7M628.92 420V411.8M628.92 5.5V13.7M696.50 420V411.8M696.50 5.5V13.7M20.7 420.30H27.8M696.5 420.30H689.4M20.7 368.49H27.8M696.5 368.49H689.4M20.7 316.68H27.8M696.5 316.68H689.4M20.7 264.87H27.8M696.5 264.87H689.4M20.7 213.06H27.8M696.5 213.06H689.4M20.7 161.25H27.8M696.5 161.25H689.4M20.7 109.44H27.8M696.5 109.44H689.4M20.7 57.63H27.8M696.5 57.63H689.4M20.7 5.82H27.8M696.5 5.82H689.4" fill="none" stroke="#3a3a3a" stroke-width="1.1"/>
<g style="filter:grayscale(1)">
<text transform="translate(20.70,433.8) scale(0.835,1.1)" text-anchor="middle">1000</text><text transform="translate(88.28,433.8) scale(0.835,1.1)" text-anchor="middle">1050</text><text transform="translate(155.86,433.8) scale(0.835,1.1)" text-anchor="middle">1100</text><text transform="translate(223.44,433.8) scale(0.835,1.1)" text-anchor="middle">1150</text><text transform="translate(291.02,433.8) scale(0.835,1.1)" text-anchor="middle">1200</text><text transform="translate(358.60,433.8) scale(0.835,1.1)" text-anchor="middle">1250</text><text transform="translate(426.18,433.8) scale(0.835,1.1)" text-anchor="middle">1300</text><text transform="translate(493.76,433.8) scale(0.835,1.1)" text-anchor="middle">1350</text><text transform="translate(561.34,433.8) scale(0.835,1.1)" text-anchor="middle">1400</text><text transform="translate(628.92,433.8) scale(0.835,1.1)" text-anchor="middle">1450</text><text transform="translate(696.50,433.8) scale(0.835,1.1)" text-anchor="middle">1500</text>
<text transform="translate(17.4,424.90) scale(0.835,1.1)" text-anchor="end">0</text><text transform="translate(17.4,373.09) scale(0.835,1.1)" text-anchor="end">1</text><text transform="translate(17.4,321.28) scale(0.835,1.1)" text-anchor="end">2</text><text transform="translate(17.4,269.47) scale(0.835,1.1)" text-anchor="end">3</text><text transform="translate(17.4,217.66) scale(0.835,1.1)" text-anchor="end">4</text><text transform="translate(17.4,165.85) scale(0.835,1.1)" text-anchor="end">5</text><text transform="translate(17.4,114.04) scale(0.835,1.1)" text-anchor="end">6</text><text transform="translate(17.4,62.23) scale(0.835,1.1)" text-anchor="end">7</text><text transform="translate(17.4,10.42) scale(0.835,1.1)" text-anchor="end">8</text>
<text transform="translate(358.6,446.8) scale(0.853,1.08)" text-anchor="middle">Test samples</text>
<text transform="translate(9.4,212.2) rotate(-90) scale(0.945,0.9)" text-anchor="middle">Leak size</text>
</g>
<rect x="535.5" y="11.5" width="156.3" height="114" fill="#fff" stroke="#3a3a3a" stroke-width="1.0"/>
<polyline points="537,19.1 546.3,19.1 555.6,19.1" fill="none" stroke="#0072BD" stroke-width="0.95" marker-mid="url(#mo)" />
<polyline points="537,31.6 546.3,31.6 555.6,31.6" fill="none" stroke="#D95319" stroke-width="0.95" marker-mid="url(#md)" />
<polyline points="537,44.1 546.3,44.1 555.6,44.1" fill="none" stroke="#EDB120" stroke-width="0.95" marker-mid="url(#mx)" />
<polyline points="537,56.6 546.3,56.6 555.6,56.6" fill="none" stroke="#7E2F8E" stroke-width="0.95"  stroke-dasharray="2.8 0.8 1 0.8"/>
<polyline points="537,69.1 546.3,69.1 555.6,69.1" fill="none" stroke="#77AC30" stroke-width="0.95" marker-mid="url(#ms)" />
<polyline points="537,81.6 546.3,81.6 555.6,81.6" fill="none" stroke="#4DBEEE" stroke-width="0.95" marker-mid="url(#mdi)" />
<polyline points="537,94.1 546.3,94.1 555.6,94.1" fill="none" stroke="#A2142F" stroke-width="0.95" marker-mid="url(#mp)" />
<polyline points="537,106.6 546.3,106.6 555.6,106.6" fill="none" stroke="#0072BD" stroke-width="0.95" marker-mid="url(#mh)" />
<polyline points="537,119.1 546.3,119.1 555.6,119.1" fill="none" stroke="#D95319" stroke-width="0.95" marker-mid="url(#mpl)" />
<g style="filter:grayscale(1)">
<text transform="translate(557.7,22.60) scale(0.852,1.06)">real leak size</text>
<text transform="translate(557.7,35.10) scale(0.852,1.06)">leak size generated by BRB</text>
<text transform="translate(557.7,47.60) scale(0.852,1.06)">leak size generated by BRB_1</text>
<text transform="translate(557.7,60.10) scale(0.852,1.06)">leak size generated by BRB_2</text>
<text transform="translate(557.7,72.60) scale(0.852,1.06)">leak size generated by BRB_3</text>
<text transform="translate(557.7,85.10) scale(0.852,1.06)">leak size generated by BRB_4</text>
<text transform="translate(557.7,97.60) scale(0.852,1.06)">leak size generated by BRB_SQP</text>
<text transform="translate(557.7,110.10) scale(0.852,1.06)">leak size generated by BRB_PSO</text>
<text transform="translate(557.7,122.60) scale(0.852,1.06)">leak size generated by BRB_S</text>
</g>
</svg>
</body></html>
